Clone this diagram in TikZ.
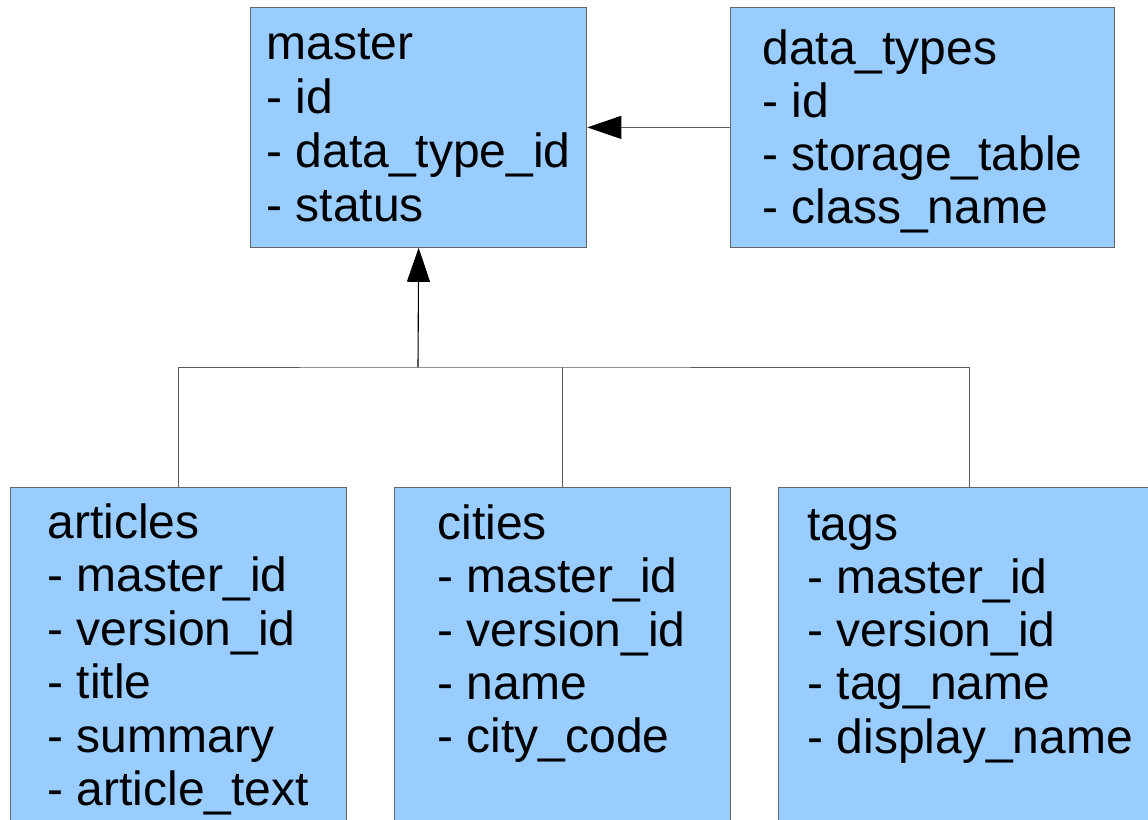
\documentclass[tikz,border=0pt]{standalone}
\usepackage{fontspec}
\setmainfont{Liberation Sans}
\usetikzlibrary{arrows.meta}
\definecolor{tablefill}{HTML}{99CCFF}
\definecolor{tableedge}{HTML}{666666}
\definecolor{linkgray}{HTML}{595959}
\begin{document}
\begin{tikzpicture}[x=1pt,y=-1pt,
  table/.style={draw=tableedge, line width=1.3pt, fill=tablefill, rectangle,
    anchor=north west, inner sep=0pt, minimum width=#1},
  table/.default=336pt,
  fields/.style={anchor=base west, inner sep=0pt, outer sep=0pt,
    font=\fontsize{48}{54}\selectfont},
  link/.style={draw=linkgray, line width=1pt},
  fk/.style={line width=1.1pt,
    -{Triangle[length=34pt, width=23pt, color=black]}}]
  \useasboundingbox (0,0) rectangle (1148,819);
  \clip (0,0) rectangle (1148,819);

  % tables
  \node[table, minimum height=239.5pt] (master) at (250,7) {};
  \node[table=384pt, minimum height=239.5pt] (datatypes) at (730,7) {};
  \node[table, minimum height=340pt] (articles) at (10,487) {};
  \node[table, minimum height=340pt] (cities) at (394,487) {};
  \node[table=382pt, minimum height=340pt] (tags) at (778,487) {};

  % column lists
  \node[fields] (master-f) at (266.5,59)
    {\vtop{\baselineskip=54pt\hbox{master}\hbox{- id}\hbox{- data\_type\_id}\hbox{- status}}};
  \node[fields] (datatypes-f) at (762.5,64)
    {\vtop{\baselineskip=53pt\hbox{data\_types}\hbox{- id}\hbox{- storage\_table}\hbox{- class\_name}}};
  \node[fields] (articles-f) at (47.5,538.5)
    {\vtop{\baselineskip=53.4pt\hbox{articles}\hbox{- master\_id}\hbox{- version\_id}\hbox{- title}\hbox{- summary}\hbox{- article\_text}}};
  \node[fields] (cities-f) at (437.5,539.5)
    {\vtop{\baselineskip=53.3pt\hbox{cities}\hbox{- master\_id}\hbox{- version\_id}\hbox{- name}\hbox{- city\_code}}};
  \node[fields] (tags-f) at (807.5,540)
    {\vtop{\baselineskip=53.3pt\hbox{tags}\hbox{- master\_id}\hbox{- version\_id}\hbox{- tag\_name}\hbox{- display\_name}}};

  % references
  \draw[fk, draw=linkgray, line width=1pt] (datatypes.west) -- (master.east);
  \coordinate (bus) at (418,367);
  \draw[link] (articles.north) |- (bus) -| (tags.north);
  \draw[link] (cities.north) -- (cities.north |- bus);
  \draw[fk, draw=black] (bus) -- (master.south);
\end{tikzpicture}
\end{document}
